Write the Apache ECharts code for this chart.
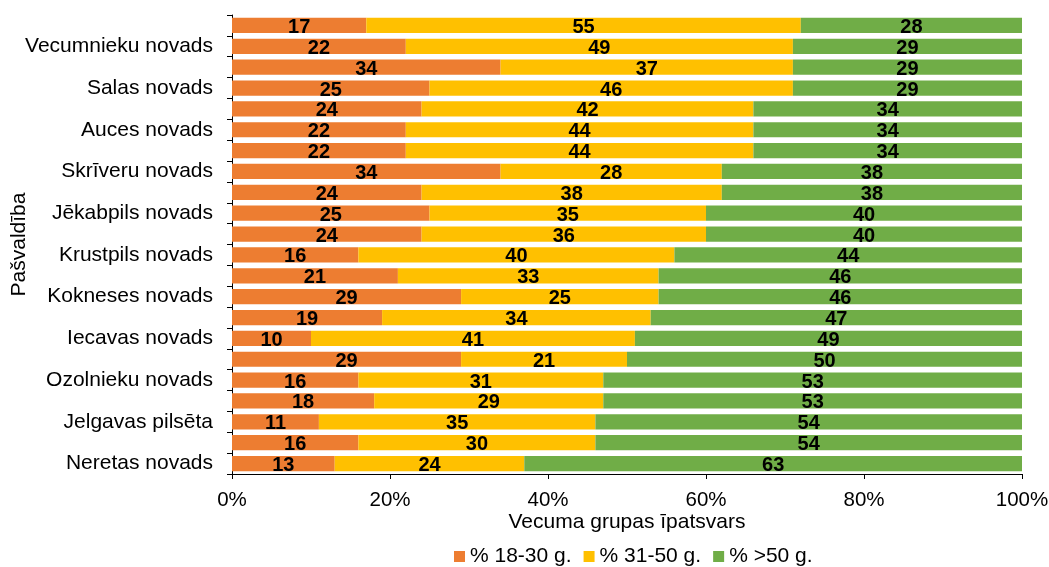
<!DOCTYPE html>
<html>
<head>
<meta charset="utf-8">
<script src="https://cdn.jsdelivr.net/npm/echarts@6/dist/echarts.min.js"></script>
<style>
html,body{margin:0;padding:0;background:#fff;}
#c{width:1049px;height:567px;}
</style>
</head>
<body>
<div id="c"></div>
<script>
// Rows from top to bottom; only every other row carries a visible name
const categories = [
  '', 'Vecumnieku novads',
  '', 'Salas novads',
  '', 'Auces novads',
  '', 'Skrīveru novads',
  '', 'Jēkabpils novads',
  '', 'Krustpils novads',
  '', 'Kokneses novads',
  '', 'Iecavas novads',
  '', 'Ozolnieku novads',
  '', 'Jelgavas pilsēta',
  '', 'Neretas novads'
];
const age18_30 = [17,22,34,25,24,22,22,34,24,25,24,16,21,29,19,10,29,16,18,11,16,13];
const age31_50 = [55,49,37,46,42,44,44,28,38,35,36,40,33,25,34,41,21,31,29,35,30,24];
const age50p   = [28,29,29,29,34,34,34,38,38,40,40,44,46,46,47,49,50,53,53,54,54,63];
const seriesNames = ['% 18-30 g.', '% 31-50 g.', '% >50 g.'];
const xTicks = [0, 20, 40, 60, 80, 100];

const colors = ['#ED7D31', '#FFC000', '#70AD47'];
const font = 'Liberation Sans, Arial, sans-serif';

const chart = echarts.init(document.getElementById('c'), null, {renderer: 'canvas'});
const mk = (name, data, i) => ({
  name: name,
  type: 'bar',
  stack: 'total',
  data: data,
  barCategoryGap: '27%',
  itemStyle: {color: colors[i]},
  label: {
    show: true,
    position: 'inside',
    color: '#000',
    fontWeight: 'bold',
    fontSize: 20,
    fontFamily: font,
    offset: [0, 2]
  },
  emphasis: {disabled: true}
});
chart.setOption({
  animation: false,
  color: colors,
  grid: {left: 232, right: 27, top: 15, bottom: 93, containLabel: false, outerBoundsMode: 'none'},
  xAxis: {
    type: 'value',
    min: xTicks[0],
    max: xTicks[xTicks.length - 1],
    interval: 20,
    name: 'Vecuma grupas īpatsvars',
    nameLocation: 'middle',
    nameGap: 38,
    nameMoveOverlap: false,
    nameTextStyle: {fontSize: 21, color: '#000', fontFamily: font},
    axisLine: {show: true, lineStyle: {color: '#000', width: 1}},
    axisTick: {show: true, length: 5, lineStyle: {color: '#000'}},
    axisLabel: {formatter: '{value}%', fontSize: 20.5, color: '#000', fontFamily: font, margin: 16},
    splitLine: {show: false}
  },
  yAxis: {
    type: 'category',
    inverse: true,
    data: categories,
    name: 'Pašvaldība',
    nameLocation: 'middle',
    nameRotate: 90,
    nameGap: 202,
    nameMoveOverlap: false,
    nameTextStyle: {fontSize: 21, color: '#000', fontFamily: font},
    axisLine: {show: true, lineStyle: {color: '#000', width: 1}},
    axisTick: {show: true, interval: 0, length: 5, lineStyle: {color: '#000'}},
    axisLabel: {interval: 0, fontSize: 21, color: '#000', fontFamily: font, margin: 19}
  },
  legend: {
    top: 541,
    left: 449,
    itemWidth: 11,
    itemHeight: 11,
    itemGap: 12,
    icon: 'rect',
    textStyle: {fontSize: 21, color: '#000', fontFamily: font},
    data: seriesNames
  },
  series: [
    mk(seriesNames[0], age18_30, 0),
    mk(seriesNames[1], age31_50, 1),
    mk(seriesNames[2], age50p, 2)
  ]
});
</script>
</body>
</html>
